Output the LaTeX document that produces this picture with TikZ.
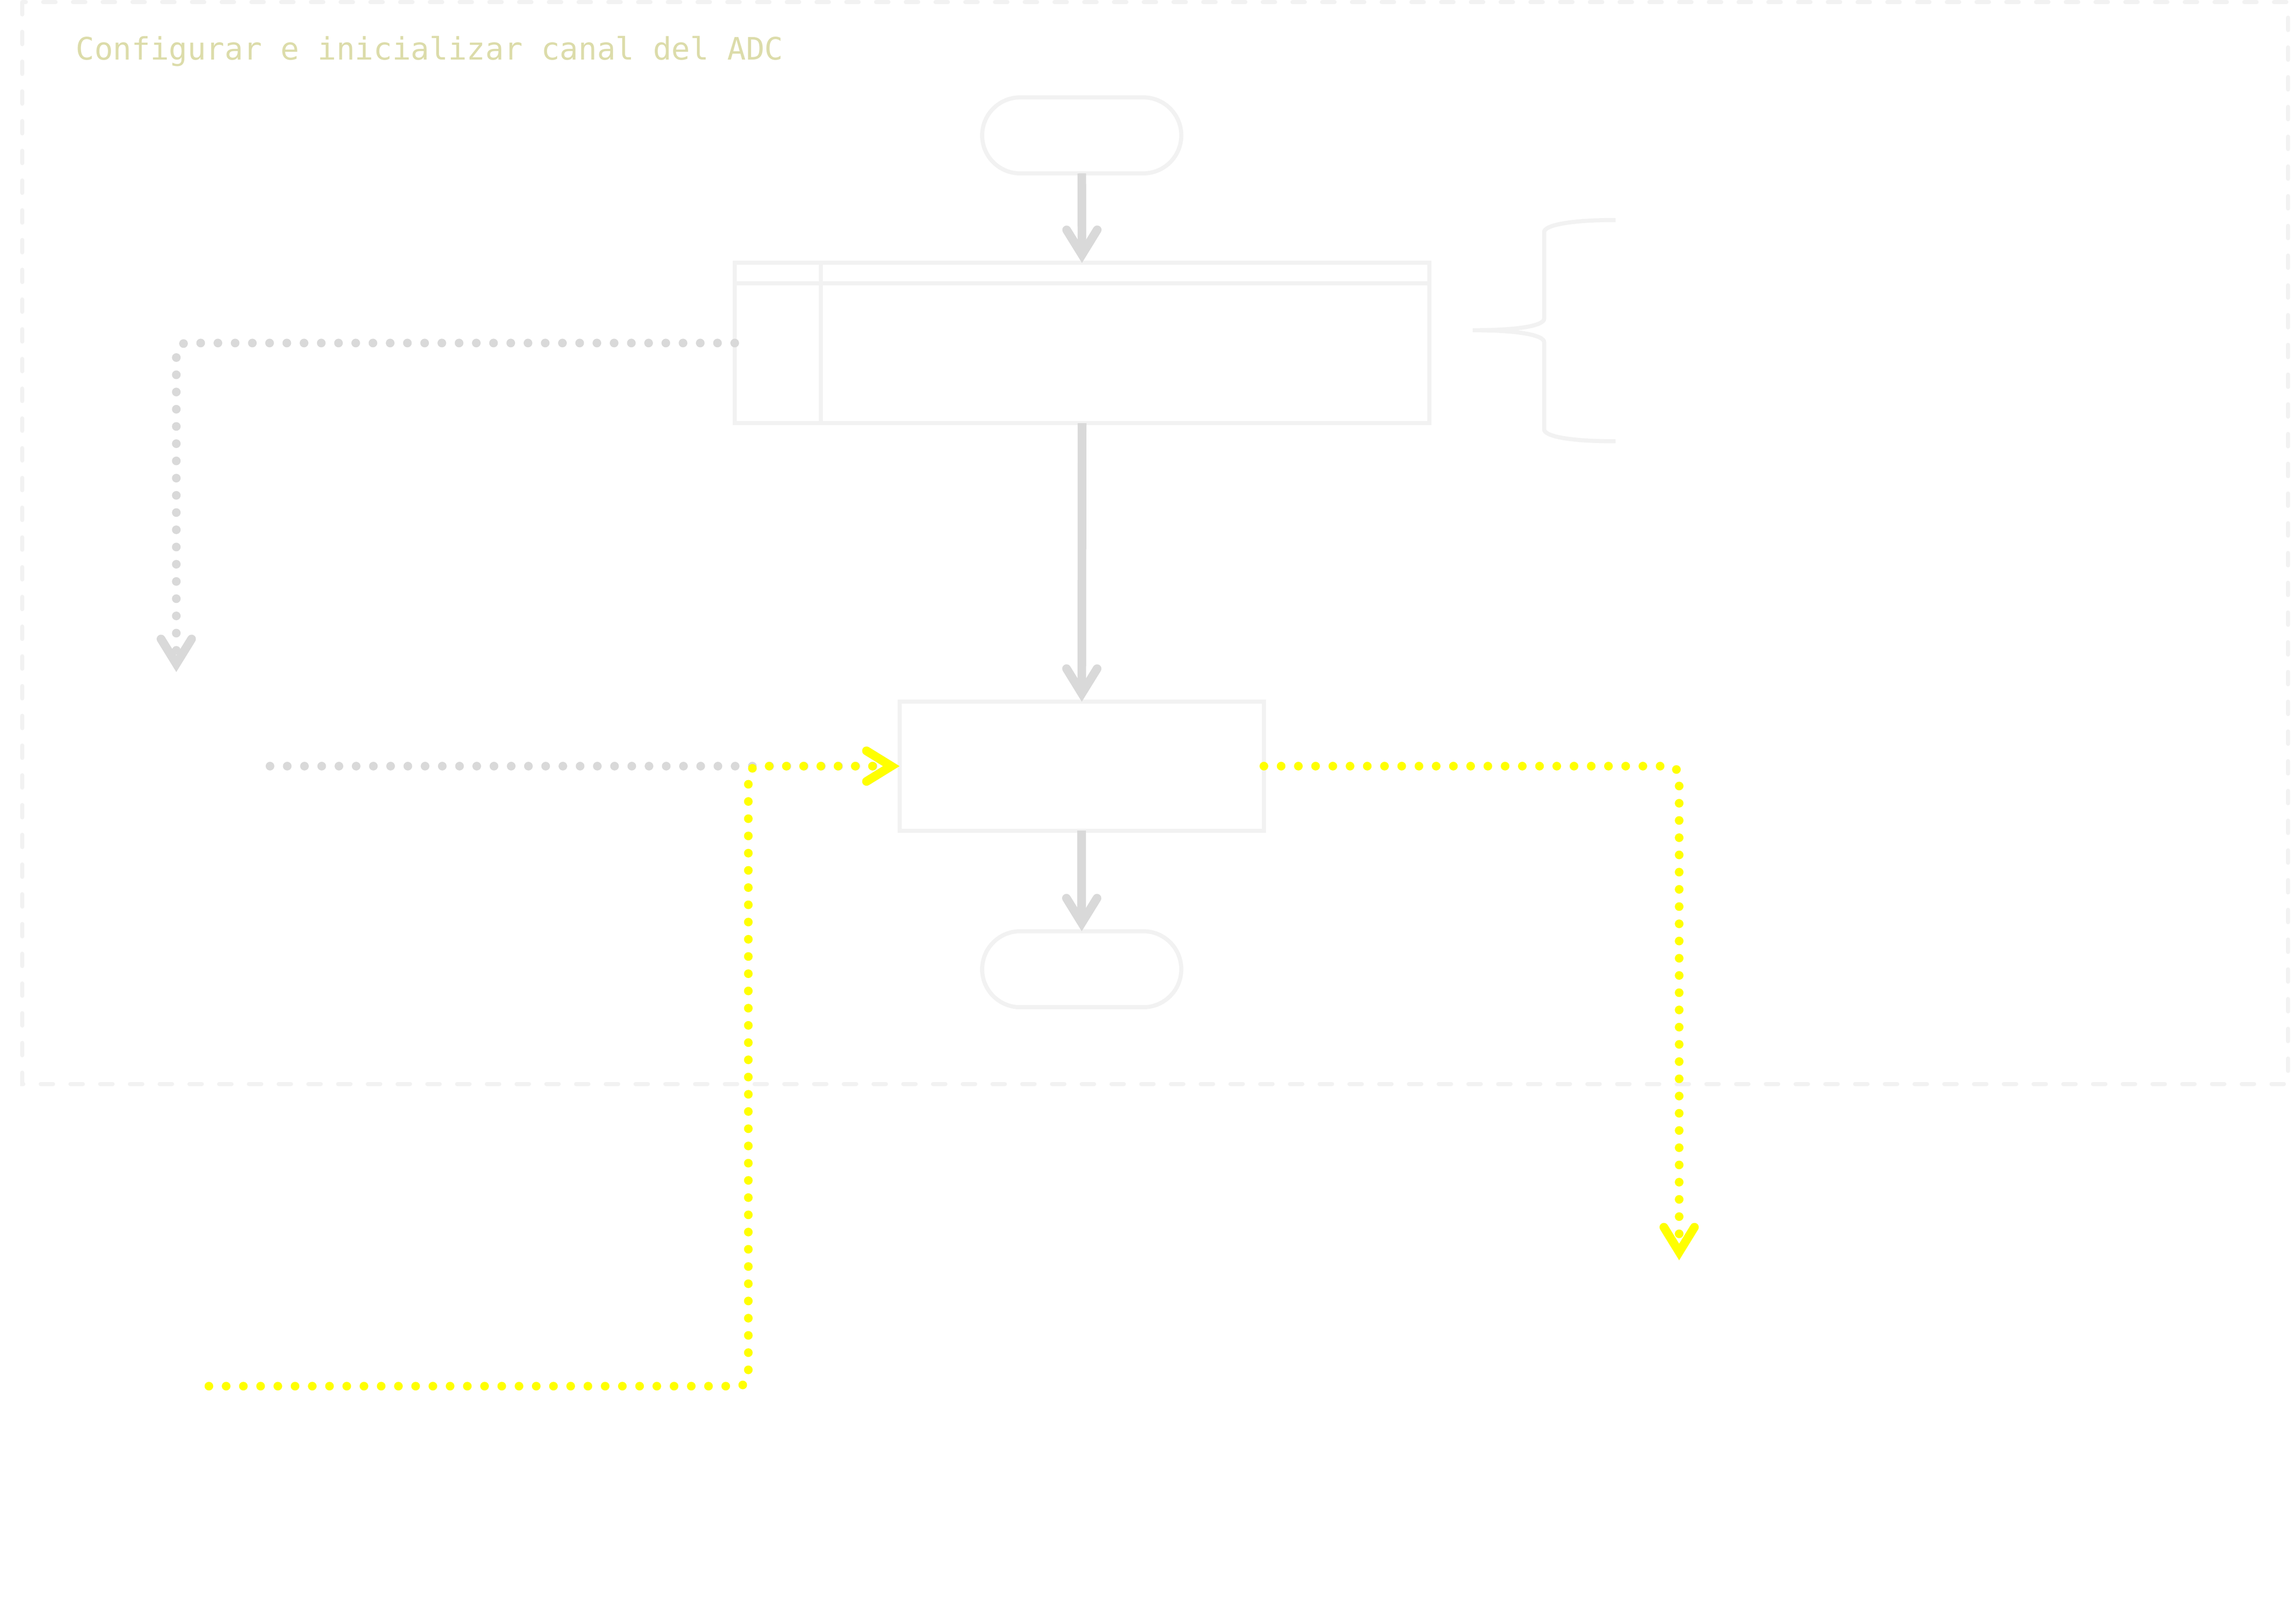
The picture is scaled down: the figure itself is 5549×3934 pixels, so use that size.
\documentclass[tikz,border=0pt]{standalone}
\usepackage{fontspec}
\usepackage{tikz}
\usetikzlibrary{arrows.meta}
\usepackage{xcolor}

\newfontfamily\codefont{DejaVu Sans Mono}
\newcommand{\grpfont}{\codefont\fontsize{21.3pt}{25pt}\selectfont}

\definecolor{frameg}{HTML}{F2F2F2}
\definecolor{lineg}{HTML}{D9D9D9}
\definecolor{grptxt}{HTML}{DCDCAA}
\definecolor{datay}{HTML}{FFFF00}

\begin{document}
\begin{tikzpicture}[x=0.01cm, y=-0.01cm,
    >={Straight Barb[length=0.6cm, width=0.74cm, line cap=round, line join=miter]},
    frm/.style={draw=frameg, line width=0.1cm},
    blk/.style={frm, rectangle, outer sep=0pt, inner sep=0pt},
    terminal/.style={blk, rounded corners=0.92cm, minimum width=4.82cm, minimum height=1.84cm},
    subproc/.style={blk, minimum width=16.82cm, minimum height=3.88cm},
    procbox/.style={blk, minimum width=8.82cm, minimum height=3.12cm},
    flow/.style={draw=lineg, line width=0.21cm, ->},
    infoline/.style={flow, dash pattern=on 0pt off 0.417cm, line cap=round, rounded corners=0.25cm},
    dataline/.style={infoline, draw=datay}]
            \useasboundingbox (0,0) rectangle (5549,3934);

            \draw[frm, dash pattern=on 0.3cm off 0.42cm, line cap=round] (54,5) rectangle (5542,2626);
            \node[anchor=base west, inner sep=0pt, text=grptxt, font=\grpfont] (grp) at (183,145) {Configurar e inicializar canal del ADC};

            \node[terminal] (start) at (2620,328) {};
            \node[subproc] (sub) at (2621,831) {};
            \node[procbox] (proc) at (2620,1856) {};
            \node[terminal] (stop) at (2620,2348) {};

            \draw[frm] ([xshift=2.09cm]sub.north west) -- ([xshift=2.09cm]sub.south west);
            \draw[frm] ([yshift=-0.49cm]sub.north west) -- ([yshift=-0.49cm]sub.north east);

            \draw[frm] (3913,533) .. controls (3790,533) and (3740,548) .. (3740,562) -- (3740,772)
                .. controls (3740,787) and (3690,800) .. (3567,800)
                .. controls (3690,800) and (3740,814) .. (3740,829) -- (3740,1040)
                .. controls (3740,1055) and (3790,1069) .. (3913,1069);

            \coordinate (regsOut) at (427,1628);
            \coordinate (chanIn) at (654,1856);
            \coordinate (selIn) at (506,3358);
            \coordinate (resOut) at (4067,3053);

            \draw[flow] (start) -- (sub);
            \draw[flow] (sub) -- (proc);
            \draw[flow] (proc) -- (stop);

            \draw[infoline] (sub.west) -| (regsOut);
            \draw[infoline] (chanIn) -- (proc.west);
            \draw[dataline] (selIn) -| ([xshift=-3.66cm]proc.west) -- (proc.west);
            \draw[dataline] (proc.east) -| (resOut);
\end{tikzpicture}
\end{document}
